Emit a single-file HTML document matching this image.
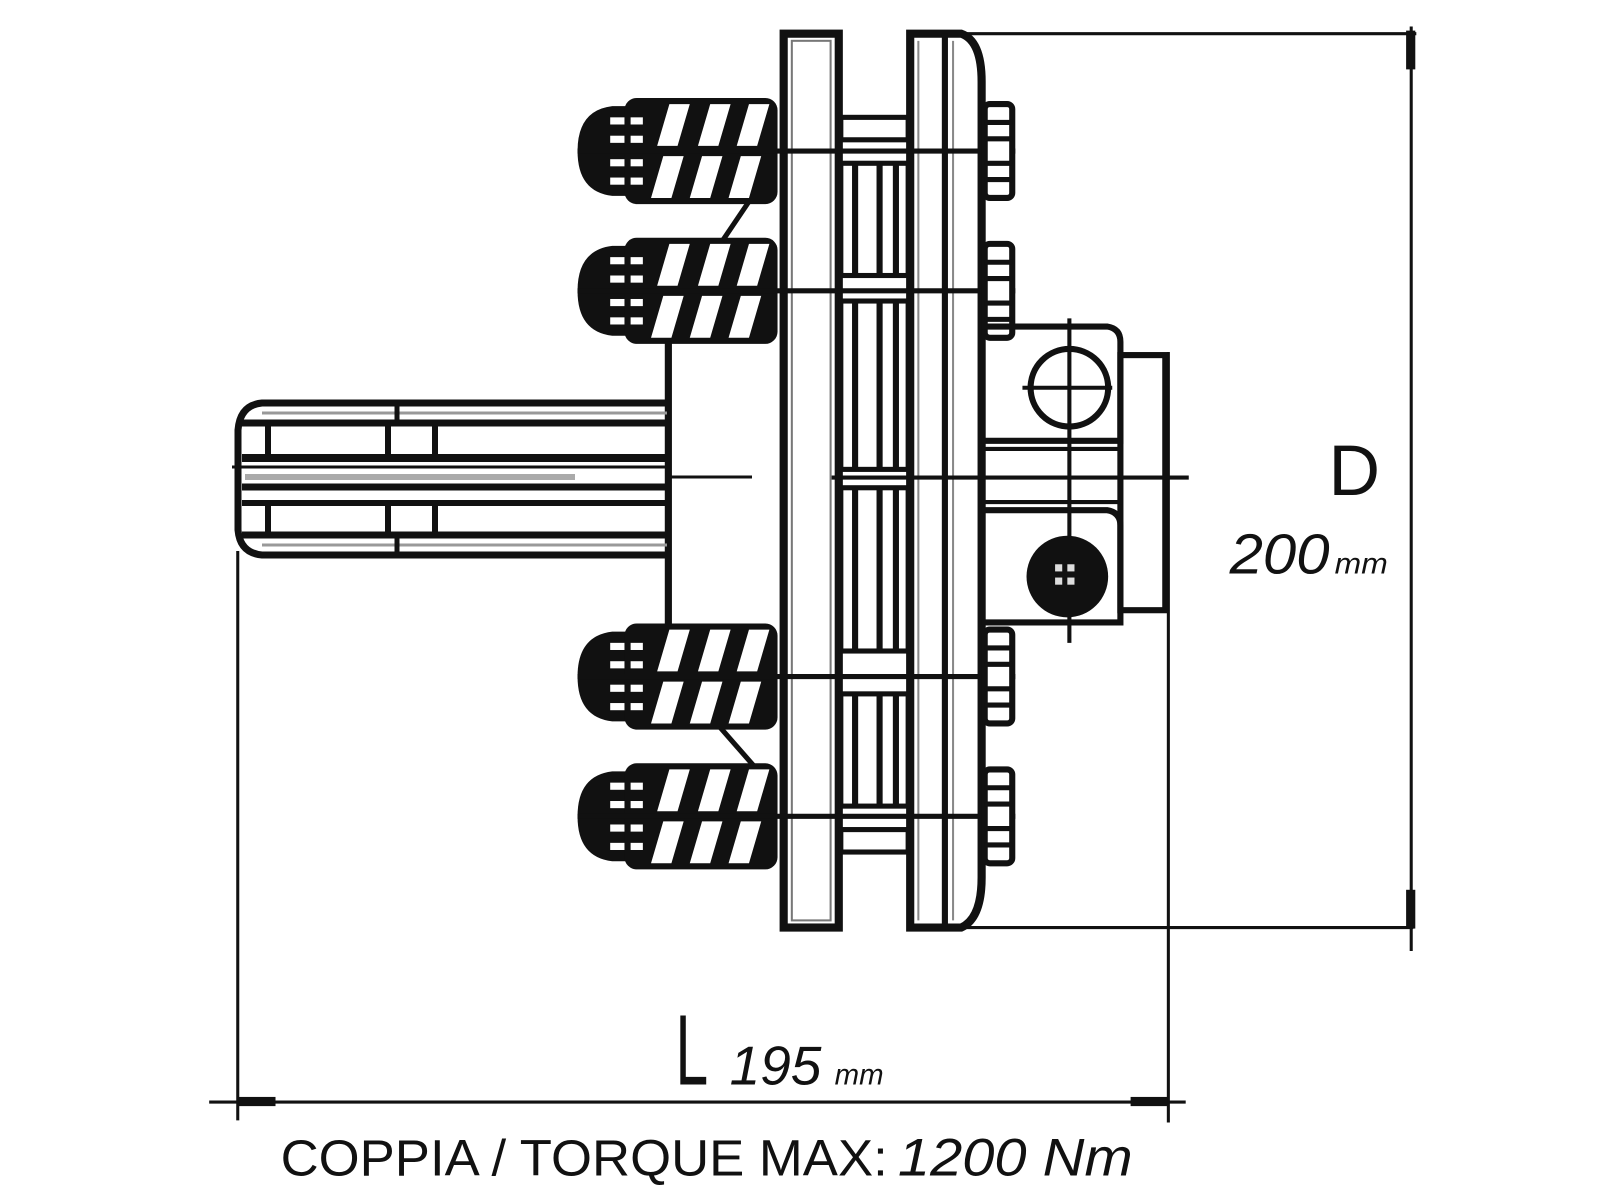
<!DOCTYPE html>
<html><head><meta charset="utf-8"><style>
html,body{margin:0;padding:0;background:#fff;}
svg{display:block;}
text{font-family:"Liberation Sans",sans-serif;fill:#111;}
</style></head><body>
<svg width="1600" height="1198" viewBox="0 0 1600 1198" xmlns="http://www.w3.org/2000/svg">
<defs>
<g id="spring">
  <path d="M615,-44 L600,-44 Q566,-40 566,0 Q566,40 600,44 L615,44 Z" fill="#111"/>
  <rect x="598" y="-33" width="14" height="7" fill="#fff"/>
  <rect x="598" y="-15" width="14" height="7" fill="#fff"/>
  <rect x="598" y="8" width="14" height="7" fill="#fff"/>
  <rect x="598" y="26" width="14" height="7" fill="#fff"/>
  <rect x="612" y="-52" width="150" height="104" rx="12" fill="#111"/>
  <rect x="618" y="-33" width="12" height="7" fill="#fff"/>
  <rect x="618" y="-15" width="12" height="7" fill="#fff"/>
  <rect x="618" y="8" width="12" height="7" fill="#fff"/>
  <rect x="618" y="26" width="12" height="7" fill="#fff"/>
  <polygon points="656,-46 676,-46 664,-5 644,-5" fill="#fff"/>
  <polygon points="696,-46 716,-46 704,-5 684,-5" fill="#fff"/>
  <polygon points="734,-46 754,-46 742,-5 722,-5" fill="#fff"/>
  <polygon points="650,5 670,5 658,46 638,46" fill="#fff"/>
  <polygon points="688,5 708,5 696,46 676,46" fill="#fff"/>
  <polygon points="726,5 746,5 734,46 714,46" fill="#fff"/>
  <line x1="566" y1="0" x2="995" y2="0" stroke="#111" stroke-width="5"/>
</g>
<g id="nut">
  <rect x="965" y="-46" width="27" height="92" rx="5" fill="#fff" stroke="#111" stroke-width="6"/>
  <line x1="965" y1="-28" x2="992" y2="-28" stroke="#111" stroke-width="5"/>
  <line x1="965" y1="-12" x2="992" y2="-12" stroke="#111" stroke-width="5"/>
  <line x1="965" y1="12" x2="992" y2="12" stroke="#111" stroke-width="5"/>
  <line x1="965" y1="28" x2="992" y2="28" stroke="#111" stroke-width="5"/>
</g>
</defs>

<g transform="scale(1.0204)">
  <g stroke="#111" stroke-width="3" fill="none">
    <line x1="945" y1="33" x2="1388" y2="33"/>
    <line x1="940" y1="909" x2="1385" y2="909"/>
    <line x1="1383" y1="26" x2="1383" y2="932"/>
    <line x1="233" y1="540" x2="233" y2="1098"/>
    <line x1="1145" y1="345" x2="1145" y2="1100"/>
    <line x1="205" y1="1080" x2="1162" y2="1080"/>
  </g>
  <rect x="1378" y="30" width="9" height="38" fill="#111"/>
  <rect x="1378" y="872" width="9" height="38" fill="#111"/>
  <rect x="234" y="1075" width="36" height="9" fill="#111"/>
  <rect x="1108" y="1075" width="36" height="9" fill="#111"/>

  <rect x="768" y="33" width="54" height="876" fill="#fff" stroke="#111" stroke-width="8"/>
  <rect x="776" y="40" width="38" height="862" fill="none" stroke="#777" stroke-width="2"/>
  <path d="M892,33 L942,33 Q962,40 962,80 L962,860 Q962,900 942,909 L892,909 Z" fill="#fff" stroke="#111" stroke-width="8"/>
  <line x1="926" y1="33" x2="926" y2="909" stroke="#111" stroke-width="6"/>
  <line x1="900" y1="40" x2="900" y2="902" stroke="#888" stroke-width="2"/>
  <line x1="934" y1="40" x2="934" y2="902" stroke="#888" stroke-width="2"/>

  <g fill="#fff" stroke="#111" stroke-width="5">
    <rect x="824" y="115" width="66" height="22"/>
    <rect x="824" y="160" width="66" height="110"/>
    <rect x="824" y="295" width="66" height="165"/>
    <rect x="824" y="478" width="66" height="160"/>
    <rect x="824" y="680" width="66" height="110"/>
    <rect x="824" y="813" width="66" height="22"/>
  </g>
  <g stroke="#111" stroke-width="6">
    <line x1="838" y1="160" x2="838" y2="270"/><line x1="862" y1="160" x2="862" y2="270"/><line x1="878" y1="160" x2="878" y2="270"/>
    <line x1="838" y1="295" x2="838" y2="460"/><line x1="862" y1="295" x2="862" y2="460"/><line x1="878" y1="295" x2="878" y2="460"/>
    <line x1="838" y1="478" x2="838" y2="638"/><line x1="862" y1="478" x2="862" y2="638"/><line x1="878" y1="478" x2="878" y2="638"/>
    <line x1="838" y1="680" x2="838" y2="790"/><line x1="862" y1="680" x2="862" y2="790"/><line x1="878" y1="680" x2="878" y2="790"/>
  </g>

  <use href="#spring" transform="translate(0,148)"/>
  <use href="#spring" transform="translate(0,285)"/>
  <use href="#spring" transform="translate(0,663)"/>
  <use href="#spring" transform="translate(0,800)"/>
  <use href="#nut" transform="translate(0,148)"/>
  <use href="#nut" transform="translate(0,285)"/>
  <use href="#nut" transform="translate(0,663)"/>
  <use href="#nut" transform="translate(0,800)"/>
  <line x1="735" y1="196" x2="708" y2="236" stroke="#111" stroke-width="5"/>
  <line x1="705" y1="712" x2="740" y2="752" stroke="#111" stroke-width="5"/>

  <line x1="655" y1="335" x2="655" y2="612" stroke="#111" stroke-width="7"/>

  <g fill="none" stroke="#111" stroke-width="6">
    <path d="M962,320 L1085,320 Q1098,322 1098,335 L1098,432 L962,432"/>
    <path d="M962,500 L1085,500 Q1098,502 1098,515 L1098,610 L962,610"/>
    <rect x="1098" y="348" width="44" height="250"/>
  </g>
  <line x1="962" y1="440" x2="1100" y2="440" stroke="#111" stroke-width="4"/>
  <line x1="962" y1="492" x2="1100" y2="492" stroke="#111" stroke-width="4"/>
  <circle cx="1048" cy="380" r="38" fill="#fff" stroke="#111" stroke-width="6"/>
  <line x1="1048" y1="312" x2="1048" y2="630" stroke="#111" stroke-width="4"/>
  <line x1="1002" y1="380" x2="1090" y2="380" stroke="#111" stroke-width="4"/>
  <circle cx="1046" cy="565" r="40" fill="#111"/>
  <rect x="1034" y="553" width="7" height="7" fill="#ddd"/>
  <rect x="1046" y="553" width="7" height="7" fill="#ddd"/>
  <rect x="1034" y="566" width="7" height="7" fill="#ddd"/>
  <rect x="1046" y="566" width="7" height="7" fill="#ddd"/>
  <line x1="815" y1="468" x2="1165" y2="468" stroke="#111" stroke-width="4"/>

  <text x="1302" y="485" font-size="70">D</text>
  <text x="1205" y="562" font-size="55" font-style="italic" textLength="98" lengthAdjust="spacingAndGlyphs">200</text>
  <text x="1308" y="562" font-size="29" font-style="italic" textLength="52" lengthAdjust="spacingAndGlyphs">mm</text>
  <text x="662" y="1063" font-size="98" textLength="32" lengthAdjust="spacingAndGlyphs">L</text>
  <text x="715" y="1063" font-size="54" font-style="italic" textLength="90" lengthAdjust="spacingAndGlyphs">195</text>
  <text x="818" y="1063" font-size="29" font-style="italic" textLength="48" lengthAdjust="spacingAndGlyphs">mm</text>
  <text x="275" y="1152" font-size="50" textLength="595" lengthAdjust="spacingAndGlyphs">COPPIA / TORQUE MAX:</text>
  <text x="880" y="1152" font-size="52" font-style="italic" textLength="230" lengthAdjust="spacingAndGlyphs">1200 Nm</text>
</g>

<g stroke="#111" fill="none">
  <path d="M667,403 L262,403 Q240,405 238,430 L238,530 Q240,553 262,555 L667,555" stroke-width="7"/>
  <line x1="242" y1="423" x2="667" y2="423" stroke-width="7"/>
  <line x1="242" y1="458" x2="667" y2="458" stroke-width="8"/>
  <line x1="232" y1="467" x2="667" y2="467" stroke-width="3"/>
  <line x1="242" y1="487" x2="667" y2="487" stroke-width="7"/>
  <line x1="242" y1="503" x2="667" y2="503" stroke-width="6"/>
  <line x1="242" y1="535" x2="667" y2="535" stroke-width="7"/>
  <line x1="262" y1="413" x2="667" y2="413" stroke="#999" stroke-width="3"/>
  <line x1="262" y1="545" x2="667" y2="545" stroke="#999" stroke-width="3"/>
  <line x1="245" y1="477" x2="575" y2="477" stroke="#aaa" stroke-width="6"/>
  <line x1="268" y1="423" x2="268" y2="458" stroke-width="6"/>
  <line x1="268" y1="503" x2="268" y2="535" stroke-width="6"/>
  <line x1="388" y1="423" x2="388" y2="458" stroke-width="6"/>
  <line x1="388" y1="503" x2="388" y2="535" stroke-width="6"/>
  <line x1="435" y1="423" x2="435" y2="458" stroke-width="6"/>
  <line x1="435" y1="503" x2="435" y2="535" stroke-width="6"/>
  <line x1="397" y1="403" x2="397" y2="423" stroke-width="5"/>
  <line x1="397" y1="535" x2="397" y2="555" stroke-width="5"/>
  <line x1="667" y1="477" x2="752" y2="477" stroke-width="3"/>
</g>
</svg>
</body></html>
